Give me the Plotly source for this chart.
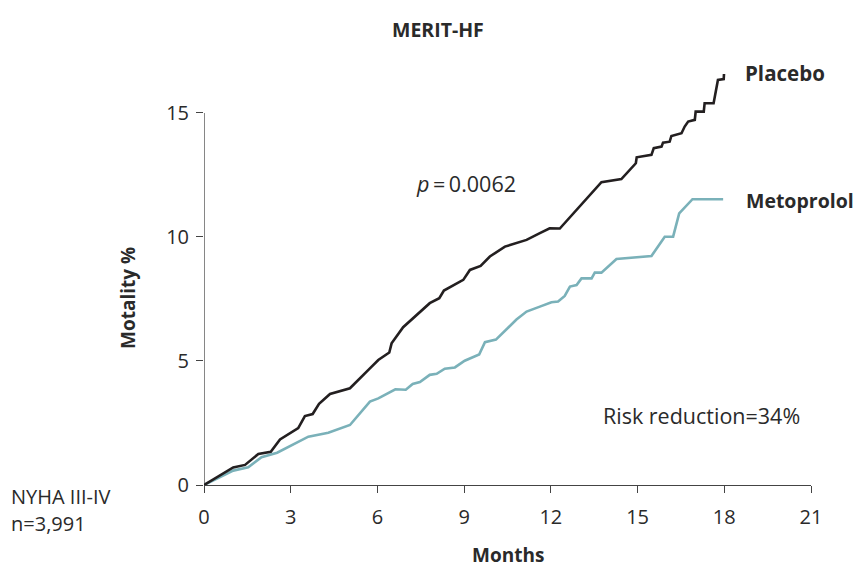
import plotly.graph_objects as go

# ---- data ----
placebo_months = [0, 1.01, 1.42, 1.88, 2.31, 2.63, 3.26, 3.49, 3.76, 3.98, 4.36, 5.05,
                  5.74, 6.03, 6.41, 6.49, 6.89, 7.35, 7.81, 8.14, 8.30, 8.97, 9.20, 9.57,
                  9.89, 10.41, 10.81, 11.16, 11.62, 11.96, 12.31, 13.75, 14.44, 14.79,
                  14.94, 14.97, 15.48, 15.56, 15.83, 15.88, 16.11, 16.17, 16.52, 16.63,
                  16.75, 16.98, 17.01, 17.29, 17.32, 17.63, 17.73, 17.78, 17.98, 17.99]
placebo_mort = [0, 0.71, 0.81, 1.25, 1.34, 1.84, 2.29, 2.78, 2.86, 3.27, 3.67, 3.90,
                4.70, 5.04, 5.34, 5.71, 6.36, 6.85, 7.33, 7.53, 7.84, 8.27, 8.67, 8.83,
                9.21, 9.61, 9.75, 9.88, 10.15, 10.35, 10.34, 12.21, 12.33, 12.81,
                12.97, 13.21, 13.31, 13.58, 13.64, 13.80, 13.84, 14.07, 14.18, 14.45,
                14.65, 14.72, 15.05, 15.05, 15.39, 15.39, 16.06, 16.33, 16.36, 16.57]

meto_months = [0, 1.01, 1.53, 1.99, 2.53, 3.61, 4.30, 5.05, 5.74, 6.03, 6.62, 6.98,
               7.22, 7.47, 7.81, 8.05, 8.33, 8.68, 9.02, 9.52, 9.72, 10.10, 10.81,
               11.16, 11.62, 12.02, 12.25, 12.48, 12.66, 12.89, 13.06, 13.41, 13.52,
               13.75, 14.27, 15.48, 15.94, 16.23, 16.44, 16.90, 17.96]
meto_mort = [0, 0.58, 0.71, 1.12, 1.30, 1.95, 2.11, 2.42, 3.36, 3.49, 3.86, 3.84,
             4.07, 4.15, 4.44, 4.48, 4.69, 4.74, 5.01, 5.26, 5.76, 5.86, 6.67,
             6.99, 7.19, 7.37, 7.40, 7.62, 8.00, 8.06, 8.33, 8.33, 8.56,
             8.56, 9.11, 9.23, 10.01, 10.01, 10.95, 11.52, 11.52]

x_ticks = [0, 3, 6, 9, 12, 15, 18, 21]
y_ticks = [0, 5, 10, 15]

BLACK = "#231f20"
TEAL = "#7ab1b9"
FONT = "Open Sans"
TXT = "#2a2a2a"

fig = go.Figure()
fig.add_trace(go.Scatter(x=meto_months, y=meto_mort, mode="lines",
                         line=dict(color=TEAL, width=2.6), name="Metoprolol",
                         cliponaxis=False))
fig.add_trace(go.Scatter(x=placebo_months, y=placebo_mort, mode="lines",
                         line=dict(color=BLACK, width=2.6), name="Placebo",
                         cliponaxis=False))

# y axis line only up to 15
fig.add_shape(type="line", xref="x", yref="y", x0=0, x1=0, y0=0, y1=15,
              line=dict(color="#444", width=1.3), layer="below")

# page body has an 8px margin: figure drawn at (8, 8)
fig.update_layout(
    width=857, height=561,
    margin=dict(l=196, r=54, t=60, b=84),
    plot_bgcolor="white", paper_bgcolor="white",
    showlegend=False,
    font=dict(family=FONT, color=TXT, size=18),
    xaxis=dict(range=[0, 21], tickvals=x_ticks, showgrid=False, zeroline=False,
               showline=True, linecolor="#444", linewidth=1.3,
               ticks="outside", ticklen=7, tickcolor="#444", tickwidth=1.3,
               tickfont=dict(family=FONT, size=20, color=TXT),
               ticklabelstandoff=7),
    yaxis=dict(range=[0, 16.81], tickvals=y_ticks, showgrid=False, zeroline=False,
               showline=False,
               ticks="outside", ticklen=7, tickcolor="#444", tickwidth=1.3,
               tickfont=dict(family=FONT, size=20, color=TXT),
               ticklabelstandoff=3),
)


def px(x):
    return (x - 204) / 607


def py(y):
    return (485 - y) / 417


for t, x, y, s in [("<b>MERIT-HF</b>", 438, 30, 19.5), ("<b>Months</b>", 508, 555, 19)]:
    fig.add_annotation(text=t, xref="paper", yref="paper", x=px(x), y=py(y),
                       showarrow=False, font=dict(family=FONT, size=s, color=TXT),
                       xanchor="center", yanchor="middle")

fig.add_annotation(text="<b>Motality %</b>", xref="paper", yref="paper",
                   x=px(128), y=py(298), textangle=-90,
                   showarrow=False, font=dict(family=FONT, size=19, color=TXT),
                   xanchor="center", yanchor="middle")

left_texts = [
    ("<b>Placebo</b>", 743, 73, 20.5),
    ("<b>Metoprolol</b>", 744, 200, 19.5),
    ("Risk reduction=34%", 601, 415, 21.5),
    ("<i>p</i>\u2009=\u20090.0062", 414, 183, 21.5),
    ("NYHA III-IV", 9, 496, 20),
    ("n=3,991", 9, 523, 20),
]
for t, x, y, s in left_texts:
    fig.add_annotation(text=t, xref="paper", yref="paper", x=px(x), y=py(y),
                       showarrow=False, font=dict(family=FONT, size=s, color=TXT),
                       xanchor="left", yanchor="middle")

fig.write_html("out.html")
